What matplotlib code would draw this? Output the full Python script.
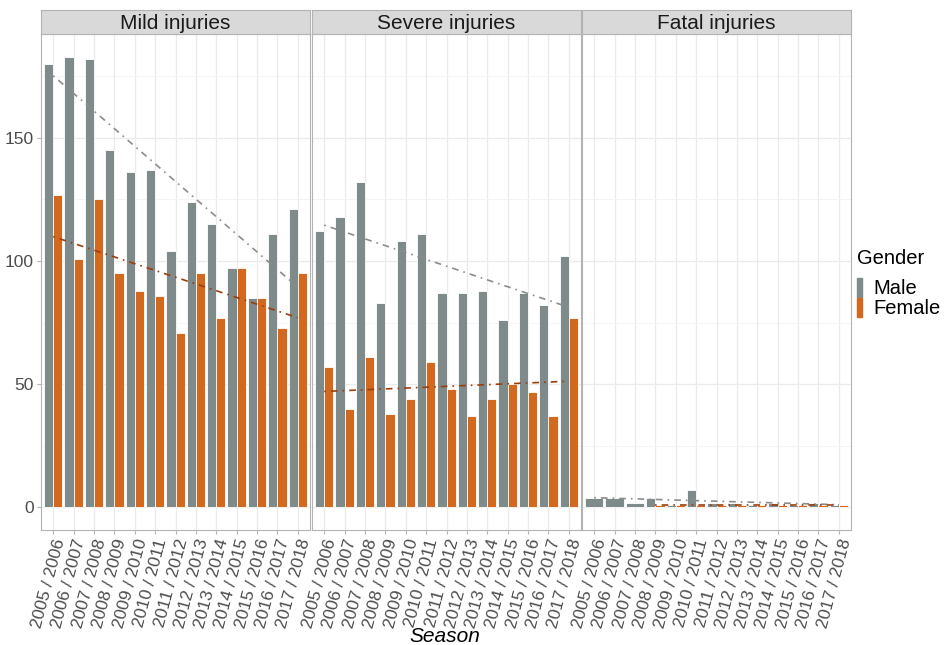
import numpy as np
import matplotlib.pyplot as plt
from matplotlib.patches import Rectangle

plt.rcParams['font.family'] = ['Liberation Sans', 'DejaVu Sans']

# Data
seasons = ['2005 / 2006', '2006 / 2007', '2007 / 2008', '2008 / 2009', '2009 / 2010',
           '2010 / 2011', '2011 / 2012', '2012 / 2013', '2013 / 2014', '2014 / 2015',
           '2015 / 2016', '2016 / 2017', '2017 / 2018']
panels = ['Mild injuries', 'Severe injuries', 'Fatal injuries']

mild_male = [180, 183, 182, 145, 136, 137, 104, 124, 115, 97, 85, 111, 121]
mild_female = [127, 101, 125, 95, 88, 86, 71, 95, 77, 97, 85, 73, 95]
severe_male = [112, 118, 132, 83, 108, 111, 87, 87, 88, 76, 87, 82, 102]
severe_female = [57, 40, 61, 38, 44, 59, 48, 37, 44, 50, 47, 37, 77]
fatal_male = [4, 4, 2, 4, 1, 7, 2, 2, 1, 2, 1, 2, 1]
fatal_female = [np.nan, np.nan, np.nan, 1, 1, 1, 1, 1, 1, 1, 1, 1, 1]

male_vals = [mild_male, severe_male, fatal_male]
female_vals = [mild_female, severe_female, fatal_female]

male_col = '#7f8a8a'
female_col = '#d2691e'
male_trend = '#8c8c8c'
female_trend = '#9c3d0c'

W, H = 944, 645
fig = plt.figure(figsize=(W / 100, H / 100), dpi=100)

x = np.arange(len(seasons))
lefts = [41, 312, 582]
pw = 269
top, bottom = 34, 530
ymax = max(max(m) for m in male_vals)

for i, name in enumerate(panels):
    ax = fig.add_axes([lefts[i] / W, 1 - bottom / H, pw / W, (bottom - top) / H])
    m = np.array(male_vals[i], dtype=float)
    f = np.array(female_vals[i], dtype=float)
    fm = ~np.isnan(f)
    # dodged bars; a season with only one gender gets the full width
    ax.bar(np.where(fm, x - 0.225, x), m, width=np.where(fm, 0.45, 0.9),
           color=male_col, edgecolor='white', linewidth=0.6, zorder=2)
    ax.bar(x[fm] + 0.225, f[fm], width=0.45, color=female_col,
           edgecolor='white', linewidth=0.6, zorder=2)

    # linear trend lines (geom_smooth lm style)
    for vals, col in [(m, male_trend), (f, female_trend)]:
        ok = ~np.isnan(vals)
        k, b = np.polyfit(x[ok], vals[ok], 1)
        xs = np.array([x[ok][0], x[ok][-1]])
        ax.plot(xs, k * xs + b, color=col, linewidth=1.2, zorder=3,
                linestyle=(0, (1, 3, 4, 3)))

    ax.set_xlim(-0.6, len(seasons) - 0.4)
    ax.set_ylim(-0.05 * ymax, 1.05 * ymax)
    ax.set_yticks([0, 50, 100, 150])
    ax.set_yticks([25, 75, 125, 175], minor=True)
    ax.set_xticks(x)
    ax.set_xticklabels(seasons, rotation=75, ha='right', rotation_mode='anchor',
                       fontsize=12.5, color='#4d4d4d')
    ax.grid(True, which='major', color='#ebebeb', linewidth=0.9, zorder=0)
    ax.grid(True, which='minor', axis='y', color='#f3f3f3', linewidth=0.6, zorder=0)
    ax.set_axisbelow(True)
    ax.tick_params(axis='both', which='major', length=3, color='#b3b3b3', pad=2)
    ax.tick_params(axis='y', which='minor', length=0)
    if i == 0:
        ax.tick_params(axis='y', labelsize=12.5, labelcolor='#4d4d4d')
    else:
        ax.tick_params(axis='y', left=False, labelleft=False)
    for s in ax.spines.values():
        s.set_color('#b3b3b3')
        s.set_linewidth(0.8)

    # facet strip
    sax = fig.add_axes([lefts[i] / W, 1 - top / H, pw / W, 24 / H])
    sax.set_facecolor('#d9d9d9')
    sax.set_xticks([])
    sax.set_yticks([])
    for s in sax.spines.values():
        s.set_color('#b3b3b3')
        s.set_linewidth(0.8)
    sax.text(0.5, 0.45, name, ha='center', va='center', fontsize=15, color='#1a1a1a',
             transform=sax.transAxes)

fig.text(445 / W, 1 - 636 / H, 'Season', ha='center', va='center', fontsize=15,
         style='italic', color='black')

# legend
fig.text(857 / W, 1 - 258 / H, 'Gender', ha='left', va='center', fontsize=14.5,
         color='black')
fig.patches.append(Rectangle((857 / W, 1 - 297 / H), 5 / W, 19 / H,
                             transform=fig.transFigure, color=male_col))
fig.patches.append(Rectangle((857 / W, 1 - 317 / H), 5 / W, 19 / H,
                             transform=fig.transFigure, color=female_col))
fig.text(873 / W, 1 - 288 / H, 'Male', ha='left', va='center', fontsize=14.5)
fig.text(873 / W, 1 - 308 / H, 'Female', ha='left', va='center', fontsize=14.5)

fig.savefig('out.png', dpi=100)
